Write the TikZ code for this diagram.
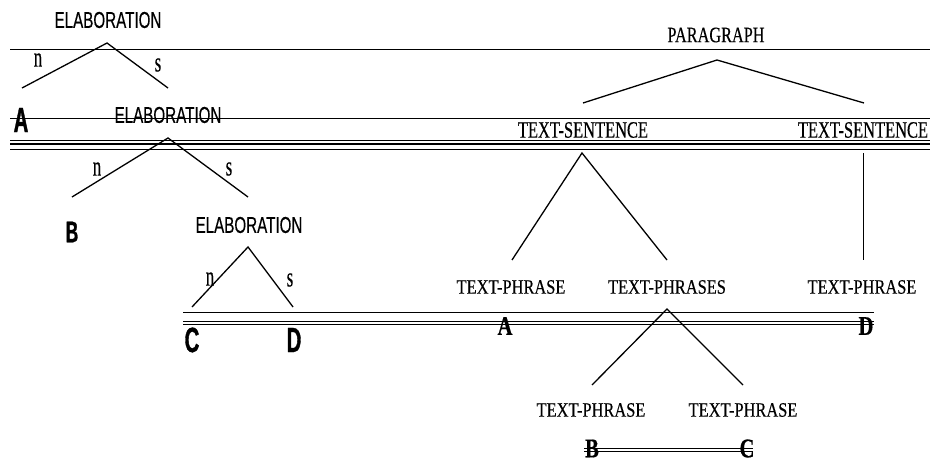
\documentclass[tikz,border=0pt]{standalone}
\usepackage{fontspec}
\setmainfont{Liberation Serif}
% condensed faces for the two trees
\newfontfamily\relfont[FakeStretch=0.66,FakeBold=0.4]{Liberation Sans}
\newfontfamily\unitfont[FakeStretch=0.58,FakeBold=1]{Liberation Sans}
\newfontfamily\sentfont[FakeStretch=0.70,FakeBold=0.3]{Liberation Serif}
\newfontfamily\parfont[FakeStretch=0.74,FakeBold=0.3]{Liberation Serif}
\newfontfamily\phrasefont[FakeStretch=0.80,FakeBold=0.3]{Liberation Serif}
\newfontfamily\nucfont[FakeStretch=0.60,FakeBold=0.3]{Liberation Serif}
\newfontfamily\leaffont[FakeStretch=0.76,FakeBold=0.6]{Liberation Serif}
\begin{document}
\begin{tikzpicture}[x=1pt,y=-1pt,
  lbl/.style={inner sep=0pt,anchor=center},
  rel/.style={lbl,font=\relfont\fontsize{23}{23}\selectfont},
  unit/.style={lbl,font=\unitfont\bfseries\fontsize{35}{35}\selectfont},
  ns/.style={lbl,font=\nucfont\fontsize{28}{28}\selectfont},
  sent/.style={lbl,font=\sentfont\fontsize{23.5}{23.5}\selectfont},
  par/.style={lbl,font=\parfont\fontsize{22}{22}\selectfont},
  phrase/.style={lbl,font=\phrasefont\fontsize{20.5}{20.5}\selectfont},
  leaf/.style={lbl,font=\leaffont\bfseries\fontsize{27}{27}\selectfont},
  branch/.style={line width=1.3pt},
  rule/.style={line width=1pt},
  heavyrule/.style={line width=1.8pt}]
\useasboundingbox (0,0) rectangle (930,463);

% ---------- horizontal rules ----------
\draw[rule] (10,49) -- (930,49);
\draw[rule] (10,118) -- (930,118);
\draw[heavyrule] (10,140.5) -- (930,140.5);
\draw[heavyrule] (10,143.8) -- (930,143.8);
\draw[heavyrule] (10,149.5) -- (930,149.5);
\draw[rule] (183,312.3) -- (874,312.3);
\draw[rule] (183,321.8) -- (874,321.8);
\draw[rule] (183,324.8) -- (874,324.8);
\draw[rule] (584,448.3) -- (753,448.3);
\draw[rule] (584,451) -- (753,451);

% ---------- rhetorical structure tree ----------
\node[rel] (e1) at (108,20) {ELABORATION};
\node[unit] (uA) at (21,120) {A};
\node[rel] (e2) at (168,115) {ELABORATION};
\node[unit,font=\unitfont\bfseries\fontsize{30}{30}\selectfont] (uB) at (72,232) {B};
\node[rel] (e3) at (249,225) {ELABORATION};
\node[unit] (uC) at (192,340) {C};
\node[unit] (uD) at (294,340) {D};

\coordinate (e1t) at (107,43);
\coordinate (e1l) at (22,88);
\coordinate (e1r) at (168,88);
\coordinate (e2t) at (168,138);
\coordinate (e2l) at (72,197);
\coordinate (e2r) at (248,197);
\coordinate (e3t) at (248,247);
\coordinate (e3l) at (192,307);
\coordinate (e3r) at (293,307);

\draw[branch] (e1l) -- (e1t) -- (e1r);
\draw[branch] (e2l) -- (e2t) -- (e2r);
\draw[branch] (e3l) -- (e3t) -- (e3r);

\node[ns] (n1) at (38,60) {n};
\node[ns] (s1) at (158,65) {s};
\node[ns] (n2) at (97,169) {n};
\node[ns] (s2) at (229,169) {s};
\node[ns] (n3) at (210,279) {n};
\node[ns] (s3) at (290,280) {s};

% ---------- text grammar tree ----------
\node[par] (pg) at (716,35) {PARAGRAPH};
\node[sent] (ts1) at (583,130) {TEXT-SENTENCE};
\node[sent] (ts2) at (863,130) {TEXT-SENTENCE};
\node[phrase] (tpA) at (511,287) {TEXT-PHRASE};
\node[phrase] (tps) at (667,287) {TEXT-PHRASES};
\node[phrase] (tpD) at (862,287) {TEXT-PHRASE};
\node[phrase] (tpB) at (591,410) {TEXT-PHRASE};
\node[phrase] (tpC) at (743,410) {TEXT-PHRASE};
\node[leaf] (lA) at (505,326) {A};
\node[leaf] (lD) at (866,326) {D};
\node[leaf] (lB) at (592,448.5) {B};
\node[leaf] (lC) at (747,448.5) {C};

\coordinate (pgt) at (717,60);
\coordinate (pgl) at (583,103);
\coordinate (pgr) at (864,103);
\coordinate (ts1t) at (582,153);
\coordinate (ts1l) at (512,260);
\coordinate (ts1r) at (667,260);
\coordinate (ts2t) at (863,153);
\coordinate (ts2b) at (863,260);
\coordinate (tpst) at (667,309);
\coordinate (tpsl) at (592,385);
\coordinate (tpsr) at (743,385);

\draw[branch] (pgl) -- (pgt) -- (pgr);
\draw[branch] (ts1l) -- (ts1t) -- (ts1r);
\draw[line width=1pt] (ts2t) -- (ts2b);
\draw[branch] (tpsl) -- (tpst) -- (tpsr);
\end{tikzpicture}
\end{document}
